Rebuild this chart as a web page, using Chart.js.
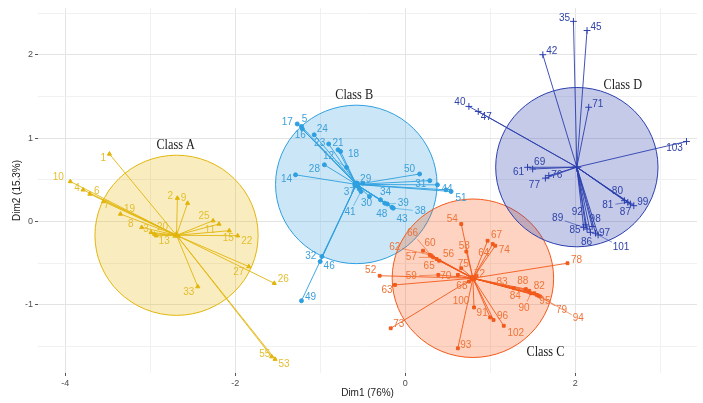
<!DOCTYPE html>
<html>
<head>
<meta charset="utf-8">
<script src="https://cdn.jsdelivr.net/npm/chart.js@4.4.1/dist/chart.umd.min.js"></script>
<style>
  html, body { margin: 0; padding: 0; background: #ffffff; }
  #wrap { width: 703px; height: 403px; }
</style>
</head>
<body>
<div id="wrap"><canvas id="pca" width="703" height="403"></canvas></div>
<script>
// Individuals on the first two dimensions, grouped into four classes
const classNames = ['Class A', 'Class B', 'Class C', 'Class D'];

const idsA  = ['1','2','3','4','6','7','8','9','10','11','13','15','19','20','22','25','26','27','33','53','55'];
const dim1A = [-3.48,-2.68,-2.99,-3.79,-3.71,-3.55,-3.10,-2.56,-3.94,-2.19,-2.93,-2.07,-3.35,-2.95,-1.97,-2.26,-1.54,-1.84,-2.44,-1.53,-1.57];
const dim2A = [0.81,0.28,-0.13,0.38,0.33,0.24,-0.07,0.22,0.48,-0.03,-0.17,-0.11,0.09,-0.15,-0.17,0.01,-0.74,-0.54,-0.78,-1.65,-1.62];

const idsB  = ['5','12','14','16','17','18','21','23','24','28','29','30','31','32','34','36','37','38','39','41','43','44','46','48','49','50','51'];
const dim1B = [-1.22,-0.69,-1.29,-1.21,-1.27,-0.76,-0.79,-0.90,-1.07,-0.95,-0.50,-0.42,0.29,-0.98,-0.29,0.38,-0.54,-0.14,-0.21,-0.52,-0.155,0.48,-1.00,-0.24,-1.22,0.17,0.54];
const dim2B = [1.14,0.65,0.56,1.11,1.17,0.84,0.86,0.93,1.04,0.68,0.46,0.30,0.49,-0.42,0.26,0.44,0.39,0.16,0.21,0.36,0.17,0.38,-0.48,0.22,-0.95,0.57,0.36];

const idsC  = ['52','54','56','57','58','59','60','62','63','64','65','66','67','68','70','72','73','74','75','78','79','82','83','84','88','90','91','93','94','95','96','100','102'];
const dim1C = [-0.30,0.66,0.37,0.33,0.72,0.39,0.21,0.29,-0.12,1.03,0.40,0.31,0.97,0.75,0.62,0.84,-0.17,1.06,0.66,1.91,1.57,1.52,1.28,1.46,1.42,1.48,1.00,0.62,1.59,1.55,1.04,0.81,1.16];
const dim2C = [-0.65,-0.03,-0.45,-0.43,-0.36,-0.64,-0.35,-0.40,-0.76,-0.27,-0.47,-0.41,-0.23,-0.72,-0.64,-0.65,-1.28,-0.29,-0.56,-0.50,-0.89,-0.86,-0.80,-0.83,-0.81,-0.86,-1.15,-1.52,-0.90,-0.88,-1.18,-1.03,-1.25];

const idsD  = ['35','40','42','45','47','61','69','71','76','77','80','81','85','86','87','89','92','97','98','99','101','103'];
const dim1D = [1.98,0.75,1.62,2.14,0.86,1.44,1.50,2.16,1.69,1.65,2.58,2.62,2.14,2.18,2.65,2.10,2.12,2.24,2.20,2.69,2.27,3.31];
const dim2D = [2.40,1.38,2.00,2.29,1.32,0.65,0.63,1.37,0.55,0.52,0.25,0.23,-0.09,-0.13,0.21,-0.07,-0.04,-0.14,-0.06,0.19,-0.16,0.96];

// class centres and circle radii (dimension units)
const centreDim1 = [-2.69, -0.575, 0.797, 2.02];
const centreDim2 = [-0.165, 0.445, -0.68, 0.652];
const circleRadius = [0.96, 0.95, 0.95, 0.955];

// axis ticks
const dim1TickLabels = [-4, -2, 0, 2];
const dim2TickLabels = [-1, 0, 1, 2];

// ---- styling ----
const classColor = ['#E2B50C', '#2E9FDF', '#F25A1C', '#2B3FAE'];
const classFill  = ['rgba(231,184,0,0.25)', 'rgba(46,159,223,0.25)', 'rgba(252,78,7,0.25)', 'rgba(43,63,174,0.28)'];
const classLabelColor = ['#E3BE2E', '#3C9FDA', '#EE7438', '#3043A8'];
const classShape = ['triangle', 'circle', 'rect', 'cross'];
const classPointRadius = [2.4, 2, 2, 3.4];
const classTitleAt = [[-2.70, 0.92], [-0.60, 1.52], [1.65, -1.56], [2.56, 1.64]];

// pixel offsets of each number label from its point
const labelNudge = {
  '1':[-6,4], '10':[-12,-4], '4':[-6,-2], '6':[7,-3], '7':[3,4], '19':[9,-5], '8':[-11,-3], '3':[-5,-3],
  '20':[8,-7], '13':[8,6], '2':[-7,-2], '9':[-4,-5], '25':[-9,-4], '11':[-9,6], '15':[-1,8], '22':[9,6],
  '27':[-10,6], '26':[9,-4], '33':[-9,6], '55':[-7,-2], '53':[9,5],
  '17':[-10,-2], '5':[3,-7], '16':[-2,6], '24':[8,-6], '23':[-9,-1], '21':[0,-7], '18':[13,3], '12':[-18,-11],
  '28':[-10,4], '14':[-9,4], '29':[3,-4], '50':[-10,-5], '31':[-9,4], '44':[1,-1], '51':[10,7], '37':[-10,3],
  '34':[5,-8], '39':[16,-1], '38':[27,3], '43':[10,12], '48':[-3,11], '30':[-3,7], '41':[-11,21], '32':[-11,0],
  '46':[9,5], '49':[9,-4], '36':null,
  '54':[-9,-5], '67':[9,-5], '64':[-9,9], '74':[9,5], '58':[-2,-5], '66':[-19,-22], '62':[-35,-8], '60':[7,-7],
  '57':[-22,0], '56':[12,-5], '65':[-10,6], '75':[2,-4], '52':[-9,-5], '59':[-27,1], '70':[-12,1], '72':[3,-1],
  '63':[-8,5], '68':[-7,5], '78':[9,-3], '83':[-12,-6], '88':[-3,-8], '82':[5,-7], '84':[-14,5], '90':[-7,15],
  '95':[8,6], '79':[23,14], '94':[38,22], '100':[-13,-6], '91':[-8,-4], '96':[9,-4], '102':[12,7], '73':[8,-4], '93':[8,-3],
  '35':[-9,-3], '45':[9,-3], '42':[9,-3], '71':[9,-3], '40':[-9,-4], '47':[8,6], '103':[-12,7], '69':[7,-7],
  '61':[-9,5], '76':[8,0], '77':[-11,7], '80':[-7,-9], '81':[-20,3], '87':[-5,8], '99':[9,-3], '92':[-8,-13],
  '98':[3,-7], '89':[-26,-9], '85':[-12,1], '97':[9,0], '86':[-4,10], '101':[23,12]
};

const groups = [
  { ids: idsA, d1: dim1A, d2: dim2A },
  { ids: idsB, d1: dim1B, d2: dim2B },
  { ids: idsC, d1: dim1C, d2: dim2C },
  { ids: idsD, d1: dim1D, d2: dim2D }
];

// spokes from each centre to its members (null breaks the line between spokes)
const spokeSets = groups.map((g, k) => {
  const pts = [];
  g.d1.forEach((v, i) => {
    pts.push({ x: centreDim1[k], y: centreDim2[k] });
    pts.push({ x: v, y: g.d2[i] });
    pts.push({ x: v, y: null });
  });
  return {
    type: 'line', label: classNames[k] + ' spokes', data: pts,
    borderColor: classColor[k], borderWidth: 0.9, pointRadius: 0,
    spanGaps: false, fill: false, tension: 0, order: 3
  };
});

const pointSets = groups.map((g, k) => ({
  type: 'scatter', label: classNames[k],
  data: g.d1.map((v, i) => ({ x: v, y: g.d2[i] })),
  pointStyle: classShape[k], pointRadius: classPointRadius[k],
  backgroundColor: classColor[k], borderColor: classColor[k], borderWidth: 1, order: 2
}));

const centreSet = {
  type: 'scatter', label: 'centres',
  data: centreDim1.map((v, k) => ({ x: v, y: centreDim2[k] })),
  pointStyle: classShape, pointRadius: [3.6, 3.2, 3.4, 4.5],
  backgroundColor: classColor, borderColor: classColor, borderWidth: 1.4, order: 1
};

// filled class circles, scaled through both axes
const circlePlugin = {
  id: 'classCircles',
  beforeDatasetsDraw(chart) {
    const { ctx, chartArea, scales: { x, y } } = chart;
    ctx.save();
    ctx.beginPath();
    ctx.rect(chartArea.left, chartArea.top, chartArea.width, chartArea.height);
    ctx.clip();
    centreDim1.forEach((cx0, k) => {
      const cx = x.getPixelForValue(cx0), cy = y.getPixelForValue(centreDim2[k]);
      const rx = Math.abs(x.getPixelForValue(cx0 + circleRadius[k]) - cx);
      const ry = Math.abs(y.getPixelForValue(centreDim2[k] + circleRadius[k]) - cy);
      ctx.beginPath();
      ctx.ellipse(cx, cy, rx, ry, 0, 0, Math.PI * 2);
      ctx.fillStyle = classFill[k];
      ctx.fill();
      ctx.lineWidth = 1;
      ctx.strokeStyle = classColor[k];
      ctx.stroke();
    });
    ctx.restore();
  }
};

// number labels beside points and the class titles
const labelPlugin = {
  id: 'pointLabels',
  afterDatasetsDraw(chart) {
    const { ctx, scales: { x, y } } = chart;
    ctx.save();
    ctx.font = '10px "Liberation Sans", Arial, sans-serif';
    ctx.textAlign = 'center';
    ctx.textBaseline = 'middle';
    groups.forEach((g, k) => {
      g.ids.forEach((id, i) => {
        const nudge = labelNudge[id];
        if (!nudge) return;
        const px = x.getPixelForValue(g.d1[i]), py = y.getPixelForValue(g.d2[i]);
        const lx = px + nudge[0], ly = py + nudge[1];
        const dist = Math.hypot(nudge[0], nudge[1]);
        if (dist > 16) {
          const w = ctx.measureText(id).width / 2 + 2;
          const stop = Math.max(0, dist - w);
          ctx.beginPath();
          ctx.moveTo(px, py);
          ctx.lineTo(px + nudge[0] / dist * stop, py + nudge[1] / dist * stop);
          ctx.strokeStyle = classColor[k];
          ctx.lineWidth = 0.6;
          ctx.stroke();
        }
        ctx.fillStyle = classLabelColor[k];
        ctx.fillText(id, lx, ly);
      });
    });
    ctx.fillStyle = '#1a1a1a';
    ctx.font = '15px "Liberation Serif", "Times New Roman", serif';
    classTitleAt.forEach((pos, k) => {
      const tx = x.getPixelForValue(pos[0]), ty = y.getPixelForValue(pos[1]);
      ctx.save();
      ctx.translate(tx, ty);
      ctx.scale(0.82, 1);
      ctx.fillText(classNames[k], 0, 0);
      ctx.restore();
    });
    ctx.restore();
  }
};

const tickFont = { family: '"Liberation Sans", Arial, sans-serif', size: 9 };

new Chart(document.getElementById('pca'), {
  data: { datasets: [...spokeSets, ...pointSets, centreSet] },
  options: {
    responsive: false,
    animation: false,
    layout: { padding: { top: 8, right: 0, left: 0, bottom: 0 } },
    plugins: { legend: { display: false }, tooltip: { enabled: false } },
    scales: {
      x: {
        type: 'linear', min: -4.32, max: 3.435,
        border: { display: false },
        grid: {
          color: c => (c.tick && c.tick.value % 2 === 0) ? '#E4E4E4' : '#F1F1F1',
          lineWidth: 1,
          tickLength: 3,
          tickColor: c => (c.tick && dim1TickLabels.includes(c.tick.value)) ? '#555555' : 'rgba(0,0,0,0)'
        },
        ticks: {
          stepSize: 1, includeBounds: false, autoSkip: false, maxRotation: 0, padding: 2,
          color: '#4D4D4D', font: tickFont,
          callback: v => dim1TickLabels.includes(v) ? String(v) : ''
        },
        title: { display: true, text: 'Dim1 (76%)', color: '#222222',
                 font: { family: '"Liberation Sans", Arial, sans-serif', size: 10 },
                 padding: { top: 0, bottom: 4 } },
        afterFit: s => { s.height = 30; }
      },
      y: {
        type: 'linear', min: -1.816, max: 2.56,
        border: { display: false },
        grid: {
          color: c => (c.tick && Number.isInteger(c.tick.value)) ? '#E4E4E4' : '#F1F1F1',
          lineWidth: 1,
          tickLength: 3,
          tickColor: c => (c.tick && dim2TickLabels.includes(c.tick.value)) ? '#555555' : 'rgba(0,0,0,0)'
        },
        ticks: {
          stepSize: 0.5, includeBounds: false, autoSkip: false, padding: 2,
          color: '#4D4D4D', font: tickFont,
          callback: v => dim2TickLabels.includes(v) ? String(v) : ''
        },
        title: { display: true, text: 'Dim2 (15.3%)', color: '#222222',
                 font: { family: '"Liberation Sans", Arial, sans-serif', size: 10 },
                 padding: { top: 11, bottom: 0 } },
        afterFit: s => { s.width = 38; }
      }
    }
  },
  plugins: [circlePlugin, labelPlugin]
});
</script>
</body>
</html>
